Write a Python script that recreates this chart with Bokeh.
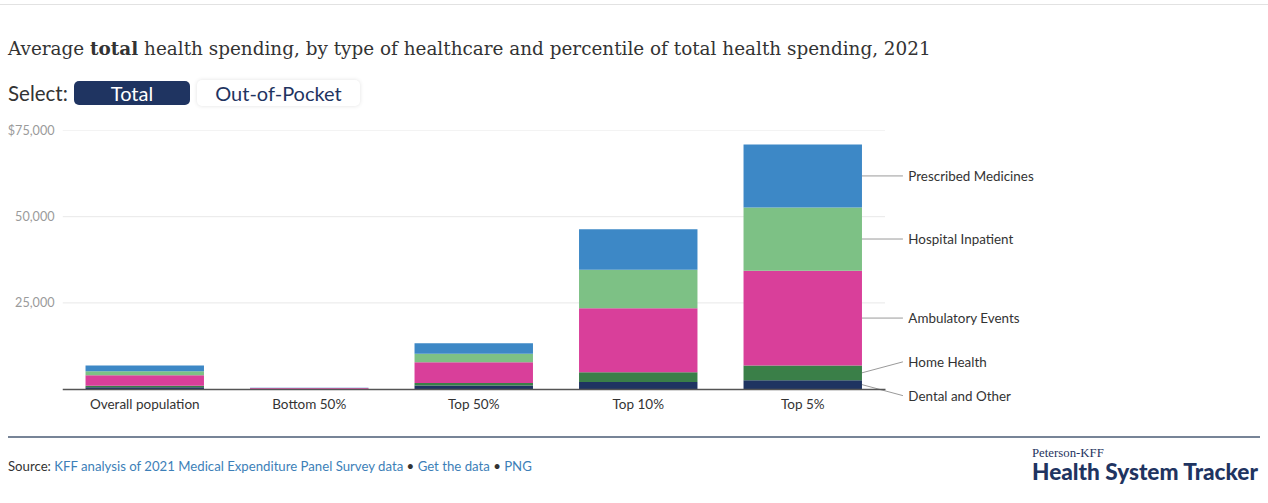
from bokeh.plotting import figure
from bokeh.models import Div, Range1d, FixedTicker, ColumnDataSource, NumeralTickFormatter
from bokeh.layouts import column
from bokeh.embed import file_html
from bokeh.resources import INLINE
from bokeh.core.properties import value

# ---------------- data ----------------
categories = ["Overall population", "Bottom 50%", "Top 50%", "Top 10%", "Top 5%"]
dental_other = [550, 80, 1060, 2030, 2600]
home_health = [400, 10, 680, 2890, 4250]
ambulatory = [3100, 230, 6080, 18540, 27510]
inpatient = [1150, 5, 2410, 11190, 18340]
prescribed = [1650, 75, 3090, 11680, 18250]
series_names = ["Dental and Other", "Home Health", "Ambulatory Events",
                "Hospital Inpatient", "Prescribed Medicines"]
series_colors = ["#1f3461", "#3a7f48", "#d93f9a", "#7dc185", "#3d88c6"]
y_ticks = [0, 25000, 50000, 75000]

series = [dental_other, home_health, ambulatory, inpatient, prescribed]
keys = ["s%d" % i for i in range(len(series))]
xs = list(range(len(categories)))
data = {"x": xs}
for k, s in zip(keys, series):
    data[k] = s
source = ColumnDataSource(data)

BAR_W = 0.72
x_lo, x_hi = -0.5, len(categories) - 0.5

p = figure(frame_width=987, frame_height=300,
           x_range=Range1d(x_lo, x_hi + 1.0), y_range=Range1d(-12000, 75000),
           output_backend="svg", toolbar_location=None,
           min_border_left=62, min_border_right=0, min_border_top=12, min_border_bottom=3)
p.outline_line_color = None
p.background_fill_color = "white"
p.border_fill_color = "white"

# horizontal gridlines limited to the bar area
grid_vals = [t for t in y_ticks if t > 0]
p.segment(x0=[x_lo] * len(grid_vals), y0=grid_vals, x1=[x_hi] * len(grid_vals), y1=grid_vals,
          line_color="#e8e8e8", line_width=1, level="underlay")

p.vbar_stack(keys, x="x", width=BAR_W, color=series_colors, line_color=None, source=source)

# right-side labels for the last bar
last = len(categories) - 1
centers = []
cum = 0
for s in series:
    centers.append(cum + s[last] / 2.0)
    cum += s[last]
label_y = list(centers)
min_gap = 9800
for _ in range(60):
    for i in range(len(label_y) - 1):
        gap = label_y[i + 1] - label_y[i]
        if gap < min_gap:
            d = (min_gap - gap) / 2.0
            label_y[i] -= d
            label_y[i + 1] += d

x_start = last + BAR_W / 2
x_end = last + 0.609
x_text = last + 0.642
p.segment(x0=[x_start] * 5, y0=centers, x1=[x_end] * 5, y1=label_y,
          line_color="#9a9a9a", line_width=1)
p.text(x=[x_text] * 5, y=label_y, text=series_names,
       text_font=value("Lato"), text_font_size="13.4px", text_color="#333333",
       text_baseline="middle", text_align="left")

# axes / grid
p.xgrid.visible = False
p.ygrid.visible = False

p.yaxis.ticker = FixedTicker(ticks=y_ticks)
p.yaxis.formatter = NumeralTickFormatter(format="0,0")
p.yaxis.major_label_overrides = {0: "", 75000: "$75,000"}
p.yaxis.axis_line_color = None
p.yaxis.major_tick_line_color = None
p.yaxis.minor_tick_line_color = None
p.yaxis.major_tick_out = 0
p.yaxis.major_label_standoff = 8
p.yaxis.major_label_text_font = "Lato"
p.yaxis.major_label_text_font_size = "12.6px"
p.yaxis.major_label_text_color = "#9a9a9a"

p.xaxis.ticker = FixedTicker(ticks=xs)
p.xaxis.major_label_overrides = {i: c for i, c in enumerate(categories)}
p.xaxis.fixed_location = 0
p.xaxis.bounds = (x_lo, x_hi)
p.xaxis.axis_line_color = "#555555"
p.xaxis.axis_line_width = 1.5
p.xaxis.major_tick_line_color = None
p.xaxis.minor_tick_line_color = None
p.xaxis.major_tick_out = 0
p.xaxis.major_label_standoff = 7
p.xaxis.major_label_text_font = "Lato"
p.xaxis.major_label_text_font_size = "13.5px"
p.xaxis.major_label_text_color = "#333333"

header = Div(width=1268, height=118, margin=0, text="""
<div style="position:relative;width:1268px;height:118px;font-family:Lato, sans-serif;">
 <div style="position:absolute;left:0;top:4px;width:1268px;height:1px;background:#e2e2e2;"></div>
 <div style="position:absolute;left:8px;top:38px;font-family:'DejaVu Serif', serif;font-size:18.4px;color:#333;white-space:nowrap;line-height:22px;">Average <b>total</b> health spending, by type of healthcare and percentile of total health spending, 2021</div>
 <div style="position:absolute;left:8px;top:81px;font-size:20.5px;color:#333;line-height:24px;">Select:</div>
 <div style="position:absolute;left:74px;top:81px;width:116px;height:24px;background:#1f3461;border-radius:5px;color:#fff;text-align:center;line-height:24px;font-size:20px;">Total</div>
 <div style="position:absolute;left:197px;top:80px;width:163px;height:26px;background:#fff;box-shadow:0 0 4px rgba(0,0,0,0.12);border-radius:5px;color:#1f3461;text-align:center;line-height:26px;font-size:20px;">Out-of-Pocket</div>
</div>
""")

footer = Div(width=1268, height=54, margin=0, text="""
<div style="position:relative;width:1268px;height:54px;font-family:Lato, sans-serif;">
 <div style="position:absolute;left:8px;top:3px;width:1252px;height:2px;background:#778497;"></div>
 <div style="position:absolute;left:8px;top:25px;font-size:13.2px;color:#333;white-space:nowrap;line-height:16px;">Source: <span style="color:#3d7fb8">KFF analysis of 2021 Medical Expenditure Panel Survey data</span> &bull; <span style="color:#3d7fb8">Get the data</span> &bull; <span style="color:#3d7fb8">PNG</span></div>
 <div style="position:absolute;left:1032px;top:13px;font-family:'Liberation Serif', serif;font-size:12.8px;color:#1f3461;line-height:14px;white-space:nowrap;">Peterson-KFF</div>
 <div style="position:absolute;left:1032px;top:26px;font-size:22.6px;font-weight:900;color:#1f3461;line-height:26px;white-space:nowrap;">Health System Tracker</div>
</div>
""")

layout = column(header, p, footer, spacing=0)
open("out.html", "w").write(file_html(layout, INLINE))
